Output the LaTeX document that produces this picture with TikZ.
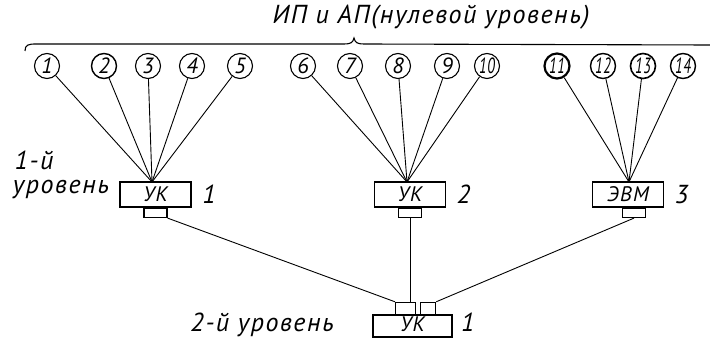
\documentclass[tikz,border=0pt]{standalone}
\usepackage{fontspec}
\setmainfont{PT Sans}[LetterSpace=6]
\usepackage{graphicx}
\usetikzlibrary{positioning}

\begin{document}
\begin{tikzpicture}[x=1pt, y=-1pt,
    font=\itshape\fontsize{26}{28}\selectfont,
    ip/.style={circle, draw, minimum size=25pt, inner sep=0pt,
        font=\itshape\fontsize{22}{22}\selectfont},
    uk/.style={draw, line width=1.8pt, minimum width=71pt, minimum height=25pt,
        inner sep=0pt, font=\itshape\fontsize{21}{21}\selectfont},
    tab/.style={draw, line width=1.2pt, minimum width=23pt, minimum height=9pt, inner sep=0pt},
    link/.style={line width=0.9pt}]
    \useasboundingbox (0,0) rectangle (710,339);

    % zero level: sources and receivers
    \foreach \n/\x/\w in {1/47/1.1, 2/104/1.4, 3/148/1.1, 4/192/1.1, 5/240/1.1,
                          6/303/1.1, 7/350/1.1, 8/398/1.1, 9/447/1.1, 10/487/1.1,
                          11/557/2.2, 12/603/1.4, 13/643/1.6, 14/683/1.4}
        \node[ip, line width=\w pt] (c\n) at (\x,66) {\ifnum\n>9 \scalebox{0.66}[1]{\n}\else\n\fi};

    \draw[line width=1.1pt] (25,51) .. controls (25,45) and (28,44) .. (36,44)
        -- (344,44) .. controls (350,44) and (353,43) .. (354,38)
        .. controls (355,43) and (358,44) .. (364,44) -- (710,45);
    \node at (431,17) {ИП и АП(нулевой уровень)};

    % first level
    \node[uk] (k1) at (155.5,194.5) {УК};
    \node[uk] (k2) at (410,194.5) {УК};
    \node[uk] (k3) at (628,194.5) {ЭВМ};
    \node[tab, below=0pt of k1] (t1) {};
    \node[tab, below=0pt of k2] (t2) {};
    \node[tab, below=0pt of k3, xshift=6pt] (t3) {};
    \node[right=7pt of k1] {1};
    \node[right=7pt of k2] {2};
    \node[right=7pt of k3] {3};
    \node at (34,160) {1-й};
    \node at (61,190) {уровень};

    \coordinate (h1) at (152,182);
    \coordinate (h2) at (407,182);
    \coordinate (h3) at (629,182);
    \foreach \n in {1,...,5}
        \draw[link] (c\n) -- (h1);
    \foreach \n in {6,...,10}
        \draw[link] (c\n) -- (h2);
    \foreach \n in {11,...,14}
        \draw[link] (c\n) -- (h3);

    % second level, the box runs down to the page edge
    \node[uk, minimum width=79pt, minimum height=22pt] (k0) at (412.5,326) {};
    \node[tab, minimum width=20pt, minimum height=12pt, anchor=south west] (tl) at (395,315) {};
    \node[tab, minimum width=15pt, minimum height=12pt, anchor=south west] (tr) at (420,315) {};
    \node[font=\itshape\fontsize{21}{21}\selectfont, inner sep=1pt, anchor=base] (k0t) at (412.5,331) {УК};
    \node[inner sep=1pt, anchor=base west] (n0) at (460,331) {1};
    \node[inner sep=1pt, anchor=base east] (l0) at (335,331) {2-й уровень};

    \draw[link] (t1.south east) -- (tl.north west);
    \draw[link] (t2.south) -- (t2.south |- tl.north);
    \draw[link] (t3.south) -- (tr.north east);
\end{tikzpicture}
\end{document}
